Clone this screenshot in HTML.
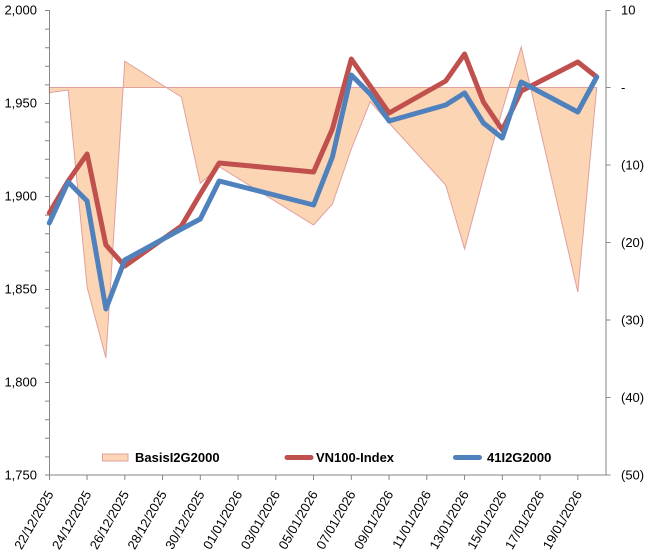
<!DOCTYPE html>
<html>
<head>
<meta charset="utf-8">
<style>
  html, body { margin:0; padding:0; background:#ffffff; }
  body { width:650px; height:551px; overflow:hidden; }
  svg { display:block; }
  text { font-family: "Liberation Sans", Arial, sans-serif; fill:#000; }
</style>
</head>
<body>
<svg width="650" height="551" viewBox="0 0 650 551" xmlns="http://www.w3.org/2000/svg">
  <rect x="0" y="0" width="650" height="551" fill="#ffffff"/>

  <!-- Basis area (right axis) -->
  <polygon fill="#FCD5B5" stroke="#E0A09E" stroke-width="1"
    points="49.3,87.5 49.3,92.7 68.2,90 87.1,287 105.9,358 124.8,61.3 181.4,97 200.3,183.3 219.2,166.7 313.6,225 332.4,204 351.3,149 370.2,101.7 389.1,123 445.7,185 464.6,249 483.4,178 502.3,110 521.2,47 577.8,292 596.7,87.5"/>

  <!-- Axes -->
  <g stroke="#868686" stroke-width="1" fill="none">
    <line x1="49.5" y1="10" x2="49.5" y2="475.5"/>
    <line x1="606" y1="10" x2="606" y2="475.5"/>
    <line x1="49.5" y1="475" x2="606" y2="475"/>
    <!-- left ticks (major + minor every 10) -->
    <path d="M45,10.5h4.5 M45,29.1h4.5 M45,47.7h4.5 M45,66.3h4.5 M45,84.9h4.5 M45,103.5h4.5 M45,122.1h4.5 M45,140.7h4.5 M45,159.3h4.5 M45,177.9h4.5 M45,196.5h4.5 M45,215.1h4.5 M45,233.7h4.5 M45,252.3h4.5 M45,270.9h4.5 M45,289.5h4.5 M45,308.1h4.5 M45,326.7h4.5 M45,345.3h4.5 M45,363.9h4.5 M45,382.5h4.5 M45,401.1h4.5 M45,419.7h4.5 M45,438.3h4.5 M45,456.9h4.5 M45,475h4.5"/>
    <!-- right ticks -->
    <path d="M606,10.5h4.5 M606,87.5h4.5 M606,165h4.5 M606,242.5h4.5 M606,320h4.5 M606,397.5h4.5 M606,475h4.5"/>
    <!-- bottom ticks -->
    <path d="M49.5,475v5 M87.05,475v5 M124.8,475v5 M162.55,475v5 M200.3,475v5 M238.05,475v5 M275.8,475v5 M313.55,475v5 M351.3,475v5 M389.05,475v5 M426.8,475v5 M464.55,475v5 M502.3,475v5 M540.05,475v5 M577.8,475v5"/>
  </g>

  <!-- VN100-Index -->
  <polyline fill="none" stroke="#C0504D" stroke-width="5" stroke-linejoin="round" stroke-linecap="round"
    points="49.3,213 68.2,181 87.1,154 105.9,245 124.8,266 181.4,226 200.3,194 219.2,163 313.6,172 332.4,129 351.3,59 370.2,86 389.1,113 445.7,81 464.6,54 483.4,102 502.3,130 521.2,91 577.8,62 596.7,77"/>

  <!-- 41I2G2000 -->
  <polyline fill="none" stroke="#4F81BD" stroke-width="5" stroke-linejoin="round" stroke-linecap="round"
    points="49.3,223 68.2,182 87.1,201 105.9,309 124.8,260 181.4,229 200.3,219 219.2,181 313.6,205 332.4,157 351.3,75 370.2,94 389.1,121 445.7,105 464.6,93 483.4,123 502.3,138 521.2,82 577.8,112 596.7,77"/>

  <!-- Left axis labels -->
  <g font-size="13" text-anchor="end">
    <text x="37" y="14.5">2,000</text>
    <text x="37" y="107.5">1,950</text>
    <text x="37" y="200.5">1,900</text>
    <text x="37" y="293.5">1,850</text>
    <text x="37" y="386.5">1,800</text>
    <text x="37" y="479.5">1,750</text>
  </g>

  <!-- Right axis labels -->
  <g font-size="13" text-anchor="start">
    <text x="621" y="14.5">10</text>
    <text x="621" y="92">-</text>
    <text x="621" y="169.5">(10)</text>
    <text x="621" y="247">(20)</text>
    <text x="621" y="324.5">(30)</text>
    <text x="621" y="402">(40)</text>
    <text x="621" y="479.5">(50)</text>
  </g>

  <!-- X axis labels -->
  <g font-size="13" text-anchor="end">
    <text transform="translate(54,494) rotate(-60)">22/12/2025</text>
    <text transform="translate(91.75,494) rotate(-60)">24/12/2025</text>
    <text transform="translate(129.5,494) rotate(-60)">26/12/2025</text>
    <text transform="translate(167.25,494) rotate(-60)">28/12/2025</text>
    <text transform="translate(205,494) rotate(-60)">30/12/2025</text>
    <text transform="translate(242.75,494) rotate(-60)">01/01/2026</text>
    <text transform="translate(280.5,494) rotate(-60)">03/01/2026</text>
    <text transform="translate(318.25,494) rotate(-60)">05/01/2026</text>
    <text transform="translate(356,494) rotate(-60)">07/01/2026</text>
    <text transform="translate(393.75,494) rotate(-60)">09/01/2026</text>
    <text transform="translate(431.5,494) rotate(-60)">11/01/2026</text>
    <text transform="translate(469.25,494) rotate(-60)">13/01/2026</text>
    <text transform="translate(507,494) rotate(-60)">15/01/2026</text>
    <text transform="translate(544.75,494) rotate(-60)">17/01/2026</text>
    <text transform="translate(582.5,494) rotate(-60)">19/01/2026</text>
  </g>

  <!-- Legend -->
  <rect x="102.5" y="454" width="25.5" height="7" fill="#FCD5B5" stroke="#E0A09E" stroke-width="1"/>
  <text x="135" y="462" font-size="13" font-weight="bold">BasisI2G2000</text>
  <line x1="287" y1="457.5" x2="311" y2="457.5" stroke="#C0504D" stroke-width="5" stroke-linecap="round"/>
  <text x="316" y="462" font-size="13" font-weight="bold">VN100-Index</text>
  <line x1="455.5" y1="457.5" x2="479.5" y2="457.5" stroke="#4F81BD" stroke-width="5" stroke-linecap="round"/>
  <text x="487" y="462" font-size="13" font-weight="bold">41I2G2000</text>
</svg>
</body>
</html>
